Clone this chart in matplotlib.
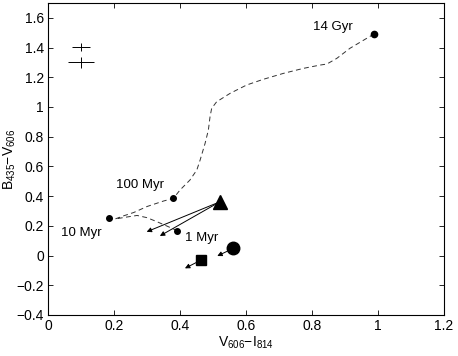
import matplotlib
matplotlib.use('Agg')
import matplotlib.pyplot as plt

plt.rcParams['font.family'] = ['Liberation Sans', 'DejaVu Sans']
plt.rcParams['mathtext.fontset'] = 'custom'
plt.rcParams['mathtext.rm'] = 'Liberation Sans'
plt.rcParams['mathtext.it'] = 'Liberation Sans'

# evolutionary track, 1 Myr -> 14 Gyr
track_x = [0.392, 0.36, 0.33, 0.30, 0.27, 0.235, 0.203, 0.23, 0.26, 0.30, 0.35, 0.380,
           0.40, 0.43, 0.451, 0.461, 0.476, 0.486, 0.491, 0.496, 0.511, 0.552, 0.602,
           0.652, 0.713, 0.774, 0.824, 0.845, 0.875, 0.915, 0.971, 0.988]
track_y = [0.167, 0.199, 0.228, 0.255, 0.27, 0.258, 0.246, 0.268, 0.29, 0.33, 0.367, 0.385,
           0.441, 0.508, 0.576, 0.643, 0.755, 0.845, 0.934, 0.991, 1.035, 1.092, 1.148,
           1.186, 1.226, 1.260, 1.282, 1.289, 1.327, 1.395, 1.469, 1.491]

# age markers on the track
age_labels = ['1 Myr', '10 Myr', '100 Myr', '14 Gyr']
age_x = [0.392, 0.185, 0.380, 0.988]
age_y = [0.167, 0.255, 0.385, 1.491]
label_x = [0.465, 0.10, 0.279, 0.864]
label_y = [0.116, 0.155, 0.475, 1.538]

# observed objects and their reddening arrows
obj_marker = ['^', 'o', 's']
obj_size = [10, 9, 6.5]
obj_x = [0.521, 0.562, 0.464]
obj_y = [0.362, 0.049, -0.030]
arrow_from = [0, 0, 1, 2]
arrow_to_x = [0.299, 0.339, 0.513, 0.415]
arrow_to_y = [0.160, 0.132, -0.003, -0.086]

# typical error bars
err_x = [0.1, 0.1]
err_y = [1.405, 1.30]
err_dx = [0.028, 0.040]
err_dy = [0.027, 0.037]

fig = plt.figure(figsize=(4.58, 3.56), dpi=100)
ax = fig.add_axes([0.1048, 0.1152, 0.8646, 0.8764])

ax.plot(track_x, track_y, color='#333333', lw=0.7, linestyle=(0, (5, 3.5)))
ax.plot(age_x[:3], age_y[:3], 'o', color='k', markersize=4)
ax.plot(age_x[3], age_y[3], 'o', color='k', markersize=4.5)
for lab, lx, ly in zip(age_labels, label_x, label_y):
    ax.text(lx, ly, lab, fontsize=9.5, ha='center', va='center')

for i, j in enumerate(arrow_from):
    ax.annotate('', xy=(arrow_to_x[i], arrow_to_y[i]), xytext=(obj_x[j], obj_y[j]),
                arrowprops=dict(arrowstyle='-|>', color='k', lw=0.7,
                                mutation_scale=7, shrinkA=0, shrinkB=0))
for m, s, x, y in zip(obj_marker, obj_size, obj_x, obj_y):
    ax.plot(x, y, m, color='k', markersize=s, zorder=5)

ax.errorbar(err_x, err_y, xerr=err_dx, yerr=err_dy, fmt='none', ecolor='k',
            elinewidth=0.7, capsize=0)

ax.set_xlim(0, 1.2)
ax.set_ylim(-0.4, 1.7)
xt = [0, 0.2, 0.4, 0.6, 0.8, 1.0, 1.2]
yt = [-0.4, -0.2, 0, 0.2, 0.4, 0.6, 0.8, 1.0, 1.2, 1.4, 1.6]
ax.set_xticks(xt)
ax.set_yticks(yt)
fmt = lambda v: ('%g' % v).replace('-', '\u2212')
ax.set_xticklabels([fmt(v) for v in xt])
ax.set_yticklabels([fmt(v) for v in yt])
ax.tick_params(direction='in', top=True, right=True, labelsize=10, length=3.5,
               width=0.6, pad=3)
for sp in ax.spines.values():
    sp.set_linewidth(0.8)

ax.set_xlabel('V$_{606}$\u2212I$_{814}$', fontsize=10, labelpad=1)
ax.set_ylabel('B$_{435}$\u2212V$_{606}$', fontsize=10)
ax.yaxis.set_label_coords(-0.075, 0.5)

fig.savefig('out.png', dpi=100)
